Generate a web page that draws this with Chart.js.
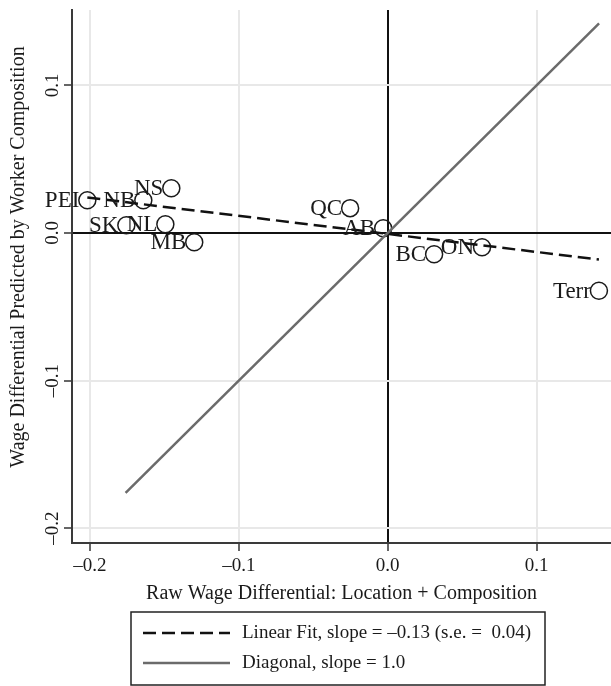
<!DOCTYPE html>
<html>
<head>
<meta charset="utf-8">
<script src="https://cdn.jsdelivr.net/npm/chart.js@4/dist/chart.umd.min.js"></script>
<style>
  html, body { margin: 0; padding: 0; background: #fff; overflow: hidden; }
  #wrap { position: relative; width: 611px; height: 686px; }
</style>
</head>
<body>
<div id="wrap"><canvas id="chart"></canvas></div>
<script>
// Province / territory labels
const regions = ['PEI', 'NB', 'NS', 'SK', 'NL', 'MB', 'QC', 'AB', 'BC', 'ON', 'Terr']

// x: raw wage differential, y: differential predicted by worker composition
const rawDiff = [-0.2017, -0.1641, -0.1453, -0.1755, -0.1493, -0.1299, -0.0252, -0.0030, 0.0312, 0.0634, 0.1419]
const predDiff = [0.0221, 0.0221, 0.0303, 0.0052, 0.0059, -0.0063, 0.0168, 0.0032, -0.0144, -0.0097, -0.0391]

// linear fit and 45 degree line end points
const fitX = [-0.2017, 0.1419]
const fitY = [0.024, -0.018]
const diagX = [-0.176, 0.142]
const diagY = [-0.176, 0.142]

// tick values
const xTicks = [-0.2, -0.1, 0, 0.1]
const yTicks = [-0.2, -0.1, 0, 0.1]

const yTitle = 'Wage Differential Predicted by Worker Composition'
const xTitle = 'Raw Wage Differential: Location + Composition'

const serif = '"Liberation Serif", "Times New Roman", serif'
const ink = '#1a1a1a'

const fmt = v => v == 0 ? '0.0' : (v < 0 ? '\u2013' : '') + Math.abs(v).toFixed(1)
const toPts = (xs, ys) => xs.map((x, i) => ({ x, y: ys[i] }))

// Labels to the left of each marker
const pointLabels = {
    id: 'pointLabels',
    afterDatasetsDraw(chart) {
        const meta = chart.getDatasetMeta(2)
        const c = chart.ctx
        c.save()
        c.font = '23px ' + serif
        c.fillStyle = ink
        c.textAlign = 'right'
        c.textBaseline = 'middle'
        meta.data.forEach((pt, i) => c.fillText(regions[i], pt.x - 8, pt.y + 1))
        c.restore()
    }
}

// y title sits a little above the middle of the plot in the original
const sideTitle = {
    id: 'sideTitle',
    afterDraw(chart) {
        const c = chart.ctx
        c.save()
        c.font = '20px ' + serif
        c.fillStyle = ink
        c.textAlign = 'center'
        c.textBaseline = 'middle'
        c.translate(19, 257)
        c.rotate(-Math.PI / 2)
        c.fillText(yTitle, 0, 0)
        c.restore()
    }
}

// Boxed legend under the x axis title
const boxLegend = {
    id: 'boxLegend',
    afterDraw(chart) {
        const c = chart.ctx
        const items = [chart.data.datasets[1], chart.data.datasets[0]]
        const box = { x: 131, y: 612, w: 414, h: 73 }

        c.save()
        c.strokeStyle = '#222'
        c.lineWidth = 1.5
        c.strokeRect(box.x, box.y, box.w, box.h)

        c.font = '19px ' + serif
        c.fillStyle = ink
        c.textAlign = 'left'
        c.textBaseline = 'middle'
        items.forEach((ds, i) => {
            const y = 633 + i * 30
            c.beginPath()
            c.strokeStyle = ds.borderColor
            c.lineWidth = ds.borderWidth
            c.setLineDash(ds.borderDash || [])
            c.moveTo(143, y)
            c.lineTo(230, y)
            c.stroke()
            c.setLineDash([])
            c.fillText(ds.label, 242, y)
        })
        c.restore()
    }
}

const gridColor = ctx => ctx.tick && ctx.tick.value == 0 ? '#111' : '#e8e8e8'

const createChart = () => {
    const ctx = document.getElementById('chart')

    new Chart(ctx, {
        type: 'scatter',
        data: {
            datasets: [
                {
                    label: 'Diagonal, slope = 1.0',
                    data: toPts(diagX, diagY),
                    showLine: true,
                    borderColor: '#6b6b6b',
                    borderWidth: 2.5,
                    pointRadius: 0
                },
                {
                    label: 'Linear Fit, slope = \u20130.13 (s.e. =  0.04)',
                    data: toPts(fitX, fitY),
                    showLine: true,
                    borderColor: '#111',
                    borderWidth: 2.5,
                    borderDash: [13, 6],
                    pointRadius: 0
                },
                {
                    label: 'Regions',
                    data: toPts(rawDiff, predDiff),
                    pointRadius: 8.5,
                    pointBorderWidth: 1.5,
                    pointBorderColor: ink,
                    pointBackgroundColor: 'rgba(0,0,0,0)'
                }
            ]
        },
        options: {
            responsive: false,
            animation: false,
            layout: { autoPadding: false, padding: { top: 10, right: 0, bottom: 76, left: 0 } },
            plugins: {
                legend: { display: false },
                tooltip: { enabled: false }
            },
            scales: {
                x: {
                    type: 'linear',
                    min: -0.212,
                    max: 0.15,
                    afterBuildTicks: s => { s.ticks = xTicks.map(v => ({ value: v })) },
                    afterFit: s => { s.height = 67 },
                    ticks: { callback: fmt, font: { family: serif, size: 19 }, color: ink, padding: 4, maxRotation: 0 },
                    grid: { color: gridColor, lineWidth: 2, tickColor: '#333', tickLength: 8, tickWidth: 1.5 },
                    border: { display: true, color: '#3a3a3a', width: 2 },
                    title: {
                        display: true,
                        text: xTitle,
                        font: { family: serif, size: 20 },
                        color: ink,
                        padding: { top: 4, bottom: 4 }
                    }
                },
                y: {
                    type: 'linear',
                    min: -0.21,
                    max: 0.151,
                    afterBuildTicks: s => { s.ticks = yTicks.map(v => ({ value: v })) },
                    afterFit: s => { s.width = 72 },
                    ticks: {
                        callback: fmt,
                        font: { family: serif, size: 19 },
                        color: ink,
                        minRotation: 90,
                        maxRotation: 90,
                        crossAlign: 'center',
                        padding: -6
                    },
                    grid: { color: gridColor, lineWidth: 2, tickColor: '#333', tickLength: 8, tickWidth: 1.5 },
                    border: { display: true, color: '#3a3a3a', width: 2 },
                    title: { display: false }
                }
            }
        },
        plugins: [pointLabels, sideTitle, boxLegend]
    })
}

const cv = document.getElementById('chart')
cv.width = 611
cv.height = 686

createChart()
</script>
</body>
</html>
